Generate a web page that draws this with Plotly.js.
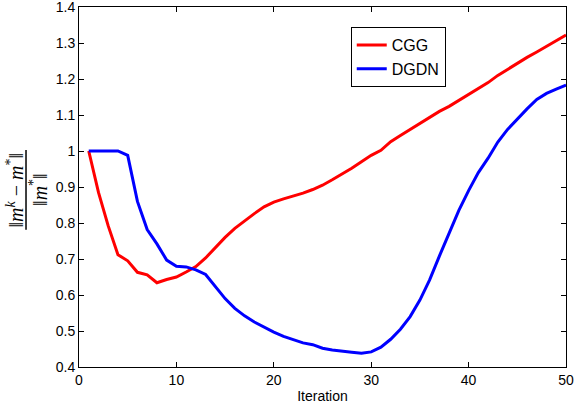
<!DOCTYPE html>
<html>
<head>
<meta charset="utf-8">
<script src="https://cdn.plot.ly/plotly-3.0.1.min.js"></script>
<style>html,body{margin:0;padding:0;background:#fff;}#chart{width:576px;height:413px;}</style>
</head>
<body>
<div id="chart"></div>
<script>
const iterations = [1,2,3,4,5,6,7,8,9,10,11,12,13,14,15,16,17,18,19,20,21,22,23,24,25,26,27,28,29,30,31,32,33,34,35,36,37,38,39,40,41,42,43,44,45,46,47,48,49,50];
const cgg = [1.0,0.885,0.792,0.712,0.695,0.663,0.656,0.634,0.643,0.65,0.664,0.679,0.703,0.733,0.76,0.785,0.806,0.826,0.845,0.858,0.867,0.874,0.883,0.893,0.905,0.92,0.935,0.952,0.97,0.988,1.002,1.026,1.043,1.06,1.075,1.092,1.11,1.124,1.14,1.156,1.172,1.19,1.21,1.227,1.245,1.26,1.275,1.29,1.306,1.322];
const dgdn = [1.0,1.0,1.0,1.0,0.988,0.86,0.782,0.742,0.697,0.68,0.678,0.67,0.657,0.622,0.59,0.563,0.542,0.525,0.51,0.497,0.485,0.475,0.467,0.462,0.452,0.447,0.445,0.441,0.438,0.442,0.455,0.477,0.505,0.54,0.586,0.642,0.708,0.773,0.835,0.89,0.94,0.98,1.025,1.06,1.09,1.117,1.143,1.16,1.172,1.183];
const seriesNames = ["CGG", "DGDN"];
const xTicks = [0, 10, 20, 30, 40, 50];
const yTicks = [0.4, 0.5, 0.6, 0.7, 0.8, 0.9, 1, 1.1, 1.2, 1.3, 1.4];
const yTickText = ["0.4", "0.5", "0.6", "0.7", "0.8", "0.9", "1", "1.1", "1.2", "1.3", "1.4"];

const font = {family: "Liberation Sans, Arial, sans-serif", size: 14, color: "#000"};
const serif = {family: "Liberation Serif, Times New Roman, serif", size: 20, color: "#000"};
const traces = [
  {x: iterations, y: cgg, name: seriesNames[0], mode: "lines", line: {color: "#ff0000", width: 3}},
  {x: iterations, y: dgdn, name: seriesNames[1], mode: "lines", line: {color: "#0000ff", width: 3}}
];
const axisCommon = {showgrid: false, zeroline: false, showline: true, linecolor: "#000", linewidth: 1, mirror: "ticks", ticks: "inside", ticklen: 5, tickcolor: "#000", tickfont: font, ticklabeloverflow: "allow"};
const layout = {
  width: 576, height: 413,
  margin: {l: 79, r: 10, t: 7, b: 46},
  paper_bgcolor: "#fff", plot_bgcolor: "#fff",
  font: font,
  showlegend: true,
  legend: {x: 0.558, y: 0.944, xanchor: "left", yanchor: "top", bordercolor: "#000", borderwidth: 1, bgcolor: "#fff", font: {family: font.family, size: 16, color: "#000"}, tracegroupgap: 0},
  xaxis: Object.assign({}, axisCommon, {range: [0, 50], tickvals: xTicks, title: {text: "Iteration", font: font, standoff: 4}}),
  yaxis: Object.assign({}, axisCommon, {range: [0.4, 1.4], tickvals: yTicks, ticktext: yTickText}),
  annotations: [
    {xref: "paper", yref: "paper", x: -0.132, y: 0.492, text: "‖<i>m</i><sup><i>k</i></sup> − <i>m</i><sup>*</sup>‖", textangle: -90, showarrow: false, font: serif, xanchor: "center", yanchor: "middle"},
    {xref: "paper", yref: "paper", x: -0.084, y: 0.492, text: "‖<i>m</i><sup>*</sup>‖", textangle: -90, showarrow: false, font: serif, xanchor: "center", yanchor: "middle"}
  ],
  shapes: [
    {type: "line", xref: "paper", yref: "paper", x0: -0.1088, x1: -0.1088, y0: 0.381, y1: 0.603, line: {color: "#000", width: 1.5}}
  ]
};
Plotly.newPlot("chart", traces, layout, {displayModeBar: false, staticPlot: true});
</script>
</body>
</html>
